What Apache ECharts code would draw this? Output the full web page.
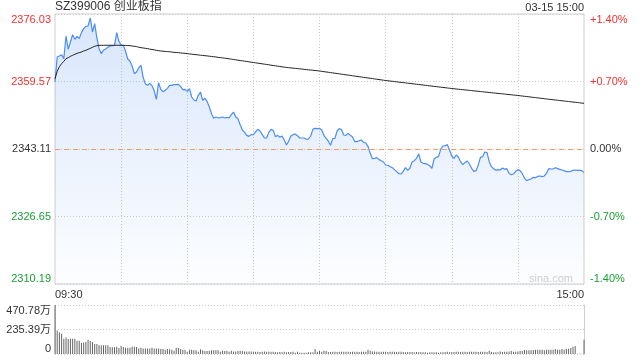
<!DOCTYPE html>
<html><head><meta charset="utf-8">
<script src="https://cdn.jsdelivr.net/npm/echarts@6/dist/echarts.min.js"></script>
<style>html,body{margin:0;padding:0;background:#fff}#c{width:640px;height:360px}</style>
</head><body><div id="c"></div>
<script>
const symbolName = 'SZ399006 创业板指';
const stampText = '03-15 15:00';
const watermark = 'sina.com';
const prevClose = 2343.11;
const priceTicks = ['2310.19', '2326.65', '2343.11', '2359.57', '2376.03'];
const pctTicks = ['-1.40%', '-0.70%', '0.00%', '+0.70%', '+1.40%'];
const volTicks = ['0', '235.39万', '470.78万'];
const volMax = 470.78;
const timeTickLabels = ['09:30', '15:00'];
const sessions = [['09:30', '11:30'], ['13:01', '15:00']];

const priceAM = [
2359.45,2365.55,2365.79,2366.11,2365.14,2370.67,2367.42,2369.20,2370.99,2369.85,
2370.59,2370.02,2371.48,2372.46,2373.02,2373.11,2375.06,2371.64,2373.67,2370.18,
2367.58,2366.36,2367.25,2367.50,2367.90,2368.23,2368.31,2368.39,2371.48,2369.37,
2368.47,2368.39,2366.93,2365.06,2364.57,2363.35,2361.48,2361.89,2362.94,2363.51,
2360.59,2358.96,2358.64,2359.12,2358.55,2357.34,2355.22,2359.29,2357.66,2357.09,
2357.42,2357.90,2358.64,2358.64,2358.80,2358.80,2358.88,2358.31,2357.58,2357.66,
2357.17,2357.82,2355.79,2355.06,2354.82,2356.20,2357.01,2354.98,2355.47,2354.73,
2353.35,2351.73,2350.59,2350.91,2350.67,2350.75,2350.91,2350.67,2350.83,2350.67,
2351.48,2352.13,2350.91,2350.51,2349.04,2347.74,2347.17,2346.44,2346.20,2346.61,
2346.61,2347.26,2347.91,2347.50,2346.69,2345.79,2345.79,2347.17,2347.91,2347.66,
2346.12,2346.44,2345.96,2346.28,2345.30,2344.09,2344.98,2346.28,2346.61,2346.77,
2346.36,2345.79,2345.79,2345.79,2345.47,2345.55,2346.28,2347.91,2348.15,2348.07,
2348.15];
const pricePM = [
2347.74,2346.44,2345.71,2345.06,2344.00,2345.63,2345.71,2347.50,2348.07,2347.82,
2346.52,2346.44,2346.93,2346.44,2346.04,2344.90,2344.90,2345.14,2345.30,2344.74,
2344.57,2343.76,2342.05,2340.75,2340.83,2341.00,2340.51,2340.26,2339.94,2339.21,
2339.13,2338.80,2338.56,2338.07,2337.58,2337.09,2337.01,2337.66,2338.56,2337.91,
2338.40,2339.94,2340.26,2340.83,2341.89,2339.94,2339.61,2339.53,2339.37,2339.05,
2338.40,2340.67,2341.08,2341.24,2343.03,2343.84,2343.92,2344.17,2342.87,2341.40,
2340.83,2341.65,2341.16,2340.02,2339.29,2339.78,2340.18,2339.45,2338.40,2337.66,
2337.83,2339.13,2341.08,2341.24,2342.38,2342.22,2340.02,2338.80,2338.31,2337.91,
2338.07,2337.99,2338.48,2338.15,2338.31,2337.18,2336.85,2337.01,2337.66,2338.07,
2337.83,2337.09,2335.96,2335.39,2335.63,2335.79,2336.20,2336.12,2336.44,2336.53,
2336.36,2336.53,2337.18,2338.31,2338.23,2338.23,2338.56,2338.31,2338.15,2337.99,
2337.83,2337.58,2337.58,2337.66,2337.91,2337.99,2337.91,2337.91,2337.83,2337.34];

const avgAM = [
2360.26,2362.05,2363.19,2363.92,2364.49,2365.14,2365.38,2365.71,2365.95,2366.20,
2366.44,2366.60,2366.76,2367.01,2367.17,2367.42,2367.66,2367.90,2368.15,2368.31,
2368.39,2368.39,2368.40,2368.40,2368.41,2368.41,2368.40,2368.40,2368.41,2368.40,
2368.39,2368.39,2368.37,2368.35,2368.31,2368.23,2368.15,2368.07,2367.94,2367.82,
2367.74,2367.66,2367.58,2367.46,2367.38,2367.29,2367.17,2367.09,2367.01,2366.97,
2366.89,2366.85,2366.81,2366.76,2366.68,2366.64,2366.60,2366.52,2366.48,2366.44,
2366.36,2366.30,2366.24,2366.17,2366.11,2366.05,2365.98,2365.92,2365.87,2365.81,
2365.74,2365.68,2365.61,2365.55,2365.46,2365.40,2365.33,2365.26,2365.18,2365.10,
2365.02,2364.94,2364.85,2364.77,2364.69,2364.61,2364.53,2364.45,2364.37,2364.29,
2364.20,2364.12,2364.04,2363.96,2363.88,2363.80,2363.72,2363.64,2363.55,2363.47,
2363.39,2363.31,2363.23,2363.15,2363.07,2363.00,2362.94,2362.89,2362.83,2362.77,
2362.72,2362.66,2362.60,2362.54,2362.48,2362.42,2362.37,2362.31,2362.25,2362.20,
2362.13];
const avgPM = [
2362.05,2361.97,2361.90,2361.82,2361.74,2361.66,2361.59,2361.51,2361.43,2361.36,
2361.28,2361.20,2361.13,2361.05,2360.97,2360.89,2360.82,2360.74,2360.66,2360.59,
2360.51,2360.43,2360.36,2360.28,2360.20,2360.12,2360.04,2359.97,2359.89,2359.81,
2359.75,2359.68,2359.62,2359.55,2359.49,2359.42,2359.36,2359.29,2359.23,2359.16,
2359.10,2359.03,2358.97,2358.90,2358.84,2358.77,2358.71,2358.64,2358.58,2358.51,
2358.45,2358.38,2358.32,2358.25,2358.19,2358.12,2358.06,2357.99,2357.93,2357.86,
2357.80,2357.74,2357.69,2357.63,2357.58,2357.52,2357.46,2357.41,2357.35,2357.29,
2357.24,2357.18,2357.12,2357.07,2357.01,2356.95,2356.90,2356.84,2356.78,2356.73,
2356.67,2356.61,2356.56,2356.50,2356.44,2356.39,2356.33,2356.27,2356.22,2356.16,
2356.09,2356.03,2355.96,2355.90,2355.83,2355.77,2355.70,2355.64,2355.57,2355.51,
2355.44,2355.38,2355.31,2355.25,2355.18,2355.12,2355.06,2355.00,2354.93,2354.87,
2354.81,2354.75,2354.69,2354.62,2354.56,2354.50,2354.44,2354.38,2354.31,2354.25];

const volume = [
470.78,226,207,194,146,159,143,146,146,146,127,127,105,111,115,137,124,115,95,95,
83,83,83,83,83,67,64,64,70,57,80,67,60,60,60,70,70,67,54,60,
54,54,54,54,60,54,54,54,48,48,41,48,45,41,32,60,57,48,38,38,
22,41,41,35,35,22,45,35,29,29,32,35,35,35,35,22,32,29,32,22,
32,25,25,29,32,29,25,25,25,25,22,22,22,19,22,25,22,22,22,22,
19,16,19,16,22,16,19,19,22,13,22,13,13,13,13,16,16,16,48,22,
32,22,32,29,19,19,22,22,19,22,22,22,22,22,19,22,22,22,19,22,
22,22,41,32,25,25,22,22,22,22,22,19,22,22,22,19,22,22,19,16,
19,19,19,16,19,16,19,16,16,13,16,16,16,16,13,16,16,19,22,16,
19,19,22,22,19,22,22,19,22,22,22,22,19,22,22,22,19,32,19,16,
16,16,25,19,22,22,25,29,22,22,25,29,29,38,35,35,35,38,41,41,
41,41,35,41,41,41,41,48,41,41,48,41,48,51,57,70,76,3,3,3,
137];

// time categories
function toMin(s){const p=s.split(':');return +p[0]*60+ +p[1];}
const times = [];
sessions.forEach(([a,b])=>{for(let m=toMin(a);m<=toMin(b);m++){times.push(String(Math.floor(m/60)).padStart(2,'0')+':'+String(m%60).padStart(2,'0'));}});
const price = priceAM.concat(pricePM);
const avgPrice = avgAM.concat(avgPM);
const rel = v => Math.round((v - prevClose) * 100);
const span = Math.round((Number(priceTicks[4]) - prevClose) * 100);
const step = span / 2;

const FONT = 'Arial, "Liberation Sans", "Noto Sans CJK SC", sans-serif';
const RED = '#f23030', GREEN = '#1aa034', DARK = '#333';
const colorOf = v => { v = Number(v); return v > 0 ? RED : (v < 0 ? GREEN : DARK); };
const dotted = { color: '#ccc', type: [1, 2], width: 1 };

const chart = echarts.init(document.getElementById('c'), null, {renderer: 'canvas'});
chart.setOption({
  animation: false,
  textStyle: { fontFamily: FONT },
  grid: [
    { left: 55, top: 14, width: 529, height: 270, show: true, borderColor: '#cfcfcf', borderWidth: 1, backgroundColor: 'transparent' },
    { left: 55, top: 305, width: 529, height: 49 }
  ],
  xAxis: [
    { type: 'category', gridIndex: 0, data: times, boundaryGap: false,
      axisLine: { show: false }, axisTick: { show: false },
      axisLabel: { show: true, margin: 5, fontSize: 11, color: DARK, fontFamily: FONT,
        interval: (i, v) => timeTickLabels.indexOf(v) >= 0 && (i === 0 || i === times.length - 1),
        alignMinLabel: 'left', alignMaxLabel: 'right' },
      splitLine: { show: true, interval: (i) => i > 0 && i < times.length - 1 && i % 30 === 0, lineStyle: dotted } },
    { type: 'category', gridIndex: 1, data: times, boundaryGap: false,
      axisLine: { show: false }, axisTick: { show: false }, axisLabel: { show: false }, splitLine: { show: false } }
  ],
  yAxis: [
    { type: 'value', gridIndex: 0, min: -span, max: span, interval: step,
      axisLine: { show: false }, axisTick: { show: false },
      splitLine: { show: true, lineStyle: dotted },
      axisLabel: { margin: 4, fontSize: 11, fontFamily: FONT,
        formatter: v => priceTicks[Math.round((v + span) / step)],
        color: v => colorOf(v),
        verticalAlignMinLabel: 'bottom', verticalAlignMaxLabel: 'top' } },
    { type: 'value', gridIndex: 0, position: 'right', min: -span, max: span, interval: step,
      axisLine: { show: false }, axisTick: { show: false }, splitLine: { show: false },
      axisLabel: { margin: 6, fontSize: 11, fontFamily: FONT,
        formatter: v => pctTicks[Math.round((v + span) / step)],
        color: v => colorOf(v),
        verticalAlignMinLabel: 'bottom', verticalAlignMaxLabel: 'top' } },
    { type: 'value', gridIndex: 1, min: 0, max: volMax, interval: volMax / 2,
      axisLine: { show: true, lineStyle: { color: '#cfcfcf' } }, axisTick: { show: false },
      splitLine: { show: true, lineStyle: dotted },
      axisLabel: { margin: 4, fontSize: 11, color: DARK, fontFamily: FONT,
        formatter: v => volTicks[Math.round(v / (volMax / 2))],
        verticalAlignMinLabel: 'bottom', verticalAlignMaxLabel: 'top' } },
    { type: 'value', gridIndex: 1, position: 'right', min: 0, max: volMax, interval: volMax / 2,
      axisLine: { show: true, lineStyle: { color: '#cfcfcf' } }, axisTick: { show: false },
      splitLine: { show: false }, axisLabel: { show: false } }
  ],
  series: [
    { type: 'line', xAxisIndex: 0, yAxisIndex: 0, data: price.map(rel), showSymbol: false, symbol: 'none',
      lineStyle: { color: '#4b8df2', width: 1.2 },
      areaStyle: { origin: 'start', color: new echarts.graphic.LinearGradient(0, 0, 0, 1, [
        { offset: 0, color: 'rgba(74,140,240,0.30)' }, { offset: 1, color: 'rgba(74,140,240,0.02)' }]) },
      markLine: { silent: true, symbol: 'none', label: { show: false },
        lineStyle: { color: '#f39c6b', type: [5, 4], width: 1 }, data: [{ yAxis: 0 }] },
      z: 3 },
    { type: 'line', xAxisIndex: 0, yAxisIndex: 0, data: avgPrice.map(rel), showSymbol: false, symbol: 'none',
      lineStyle: { color: '#222', width: 1 }, z: 4 },
    { type: 'bar', xAxisIndex: 1, yAxisIndex: 2, data: volume, barWidth: 1,
      itemStyle: { color: '#666' } }
  ],
  graphic: [
    { type: 'text', left: 55, top: 1, style: { text: symbolName, font: '12px ' + FONT, fill: DARK } },
    { type: 'text', right: 56, top: 2, style: { text: stampText, font: '11px ' + FONT, fill: DARK } },
    { type: 'text', right: 67, top: 273, style: { text: watermark, font: '11px ' + FONT, fill: '#cfcfcf' } }
  ]
});
</script></body></html>
